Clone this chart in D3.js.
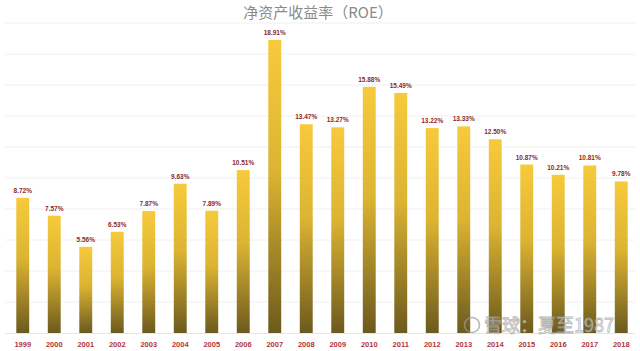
<!DOCTYPE html>
<html><head><meta charset="utf-8">
<script src="https://cdn.jsdelivr.net/npm/d3@7"></script>
<style>body{margin:0;background:#fff}svg{display:block}</style>
</head><body>
<svg id="c" width="640" height="351"></svg>
<script>
const years = ["1999","2000","2001","2002","2003","2004","2005","2006","2007","2008","2009","2010","2011","2012","2013","2014","2015","2016","2017","2018"];
const roe = [8.72,7.57,5.56,6.53,7.87,9.63,7.89,10.51,18.91,13.47,13.27,15.88,15.49,13.22,13.33,12.50,10.87,10.21,10.81,9.78];
const gridTicks = [0,2,4,6,8,10,12,14,16,18,20];
const title = "净资产收益率（ROE）";
const watermark = "雪球：夏至1987";

const svg = d3.select("#c");
const x = d3.scaleBand().domain(years).range([7,637]).paddingInner(0.59).paddingOuter(0.295);
const y = d3.scaleLinear().domain([0,20]).range([333,23]);

const defs = svg.append("defs");
const g = defs.append("linearGradient").attr("id","gold").attr("x1",0).attr("y1",0).attr("x2",0).attr("y2",1);
g.append("stop").attr("offset","0%").attr("stop-color","#f7ca3c");
g.append("stop").attr("offset","45%").attr("stop-color","#dcb432");
g.append("stop").attr("offset","100%").attr("stop-color","#6c5a1e");

svg.append("g").selectAll("line").data(gridTicks.slice(1)).join("line")
  .attr("x1",5).attr("x2",635).attr("y1",d=>y(d)).attr("y2",d=>y(d))
  .attr("stroke","#f0f0f0").attr("stroke-width",1);
svg.append("line").attr("x1",5).attr("x2",635).attr("y1",y(0)+0.5).attr("y2",y(0)+0.5).attr("stroke","#e6e6e6");

svg.append("text").attr("x",318).attr("y",18).attr("text-anchor","middle")
  .attr("font-family","Noto Sans CJK SC").attr("font-size",15).attr("fill","#8a8a8a").text(title);

svg.append("g").selectAll("rect").data(roe).join("rect")
  .attr("x",(d,i)=>x(years[i])).attr("width",x.bandwidth())
  .attr("y",d=>y(d)).attr("height",d=>y(0)-y(d)).attr("fill","url(#gold)");

svg.append("g").selectAll("text").data(roe).join("text")
  .attr("x",(d,i)=>x(years[i])+x.bandwidth()/2).attr("y",d=>y(d)-5)
  .attr("text-anchor","middle").attr("font-family","Liberation Sans").attr("font-weight","bold")
  .attr("font-size",6.5).attr("fill","#8b2a2a").text(d=>d.toFixed(2)+"%");

svg.append("g").selectAll("text").data(years).join("text")
  .attr("x",d=>x(d)+x.bandwidth()/2).attr("y",347)
  .attr("text-anchor","middle").attr("font-family","Liberation Sans").attr("font-weight","bold")
  .attr("font-size",7.5).attr("fill","#b0363a").text(d=>d);

// watermark logo + text
const wm = svg.append("g").attr("opacity",0.7);
wm.append("circle").attr("cx",472).attr("cy",325).attr("r",7.5)
  .attr("fill","none").attr("stroke","#9a9a9a").attr("stroke-width",1.6);
wm.append("text").attr("x",484).attr("y",332)
  .attr("font-family","Noto Sans CJK SC").attr("font-size",18).attr("fill","#ffffff")
  .attr("stroke","#9a9a9a").attr("stroke-width",0.8).text(watermark);
</script>
</body></html>
